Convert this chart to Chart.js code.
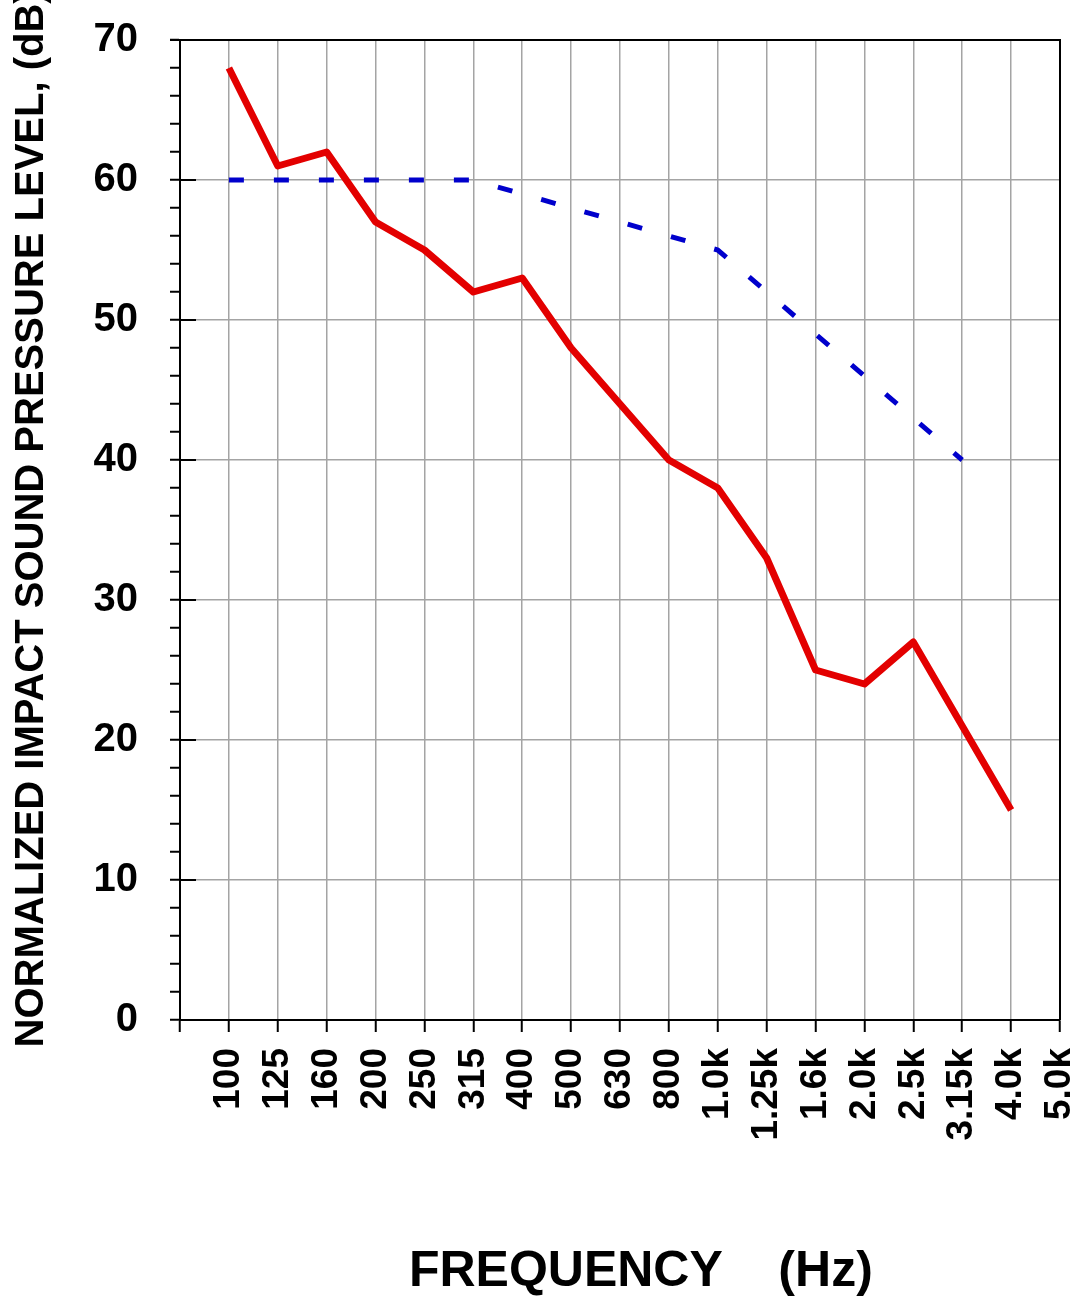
<!DOCTYPE html>
<html><head><meta charset="utf-8">
<script src="https://cdn.jsdelivr.net/npm/chart.js@4.4.1/dist/chart.umd.min.js"></script>
<style>html,body{margin:0;padding:0;background:#fff;}canvas{display:block;}</style>
</head><body>
<canvas id="c" width="1081" height="1300"></canvas>
<script>
// ---- data ----
const frequencyLabels = ['100','125','160','200','250','315','400','500','630','800','1.0k','1.25k','1.6k','2.0k','2.5k','3.15k','4.0k','5.0k'];
const measuredLevels = [68,61,62,57,55,52,53,48,44,40,38,33,25,24,27,21,15];
const referenceCurve = [60,60,60,60,60,60,59,58,57,56,55,52,49,46,43,40];
const yMin = 0, yMax = 70, yMajorStep = 10, yMinorStep = 2;
const xAxisTitle = '   FREQUENCY    (Hz)';
const yAxisTitle = '  NORMALIZED IMPACT SOUND PRESSURE LEVEL, (dB)';

const FONT = '"Liberation Sans", Arial, sans-serif';
const GRID = '#a4a4a4';
const toPoints = arr => arr.map((v, i) => ({x: i, y: v}));

const frame = {
  id: 'frame',
  beforeDatasetsDraw(chart) {
    const {ctx, chartArea: a, scales: {y}} = chart;
    ctx.save();
    ctx.strokeStyle = '#000';
    ctx.lineWidth = 2;
    ctx.beginPath();
    ctx.moveTo(a.left - 10, a.top);
    ctx.lineTo(a.right, a.top);
    ctx.lineTo(a.right, a.bottom);
    for (let v = yMin + yMajorStep; v < yMax; v += yMajorStep) {
      const py = Math.round(y.getPixelForValue(v));
      ctx.moveTo(a.left, py);
      ctx.lineTo(a.left + 16, py);
    }
    ctx.stroke();
    ctx.restore();
  }
};

new Chart(document.getElementById('c'), {
  type: 'line',
  data: {
    datasets: [
      {data: toPoints(measuredLevels), borderColor: '#e30000', borderWidth: 7, pointRadius: 0, tension: 0, fill: false, borderJoinStyle: 'round'},
      {data: toPoints(referenceCurve), borderColor: '#0000cc', borderWidth: 5, borderDash: [15, 30], borderCapStyle: 'butt', pointRadius: 0, tension: 0, fill: false}
    ]
  },
  options: {
    responsive: false,
    devicePixelRatio: 1,
    animation: false,
    layout: {padding: {top: 40, right: 21, left: 0, bottom: 0}},
    plugins: {legend: {display: false}, tooltip: {enabled: false}},
    scales: {
      x: {
        type: 'linear', min: -1, max: frequencyLabels.length - 1,
        afterFit(s) { s.height = 280; s.paddingLeft = 0; s.paddingRight = 0; },
        ticks: {
          stepSize: 1, autoSkip: false, minRotation: 90, maxRotation: 90, padding: 16,
          color: '#000', font: {family: FONT, size: 37, weight: 'bold'},
          callback: v => frequencyLabels[v] ?? ''
        },
        grid: {color: GRID, lineWidth: 1.5, tickColor: '#000', tickWidth: 2, tickLength: 12},
        border: {color: '#000', width: 2},
        title: {display: true, text: xAxisTitle, color: '#000',
          font: {family: FONT, size: 50, weight: 'bold', lineHeight: 1}, padding: {top: 0, bottom: 3}}
      },
      y: {
        min: yMin, max: yMax,
        afterFit(s) { s.width = 180; s.paddingTop = 0; s.paddingBottom = 0; },
        ticks: {
          stepSize: yMinorStep, autoSkip: false, padding: 32,
          color: '#000', font: {family: FONT, size: 40, weight: 'bold'},
          callback: v => (v % yMajorStep === 0 ? String(v) : '')
        },
        grid: {
          color: c => (c.tick && c.tick.value % yMajorStep === 0 ? GRID : 'rgba(0,0,0,0)'),
          lineWidth: 1.5, tickColor: '#000', tickWidth: 2, tickLength: 10
        },
        border: {color: '#000', width: 2},
        title: {display: true, text: yAxisTitle, color: '#000',
          font: {family: FONT, size: 40, weight: 'bold', lineHeight: 1}, padding: {top: 12, bottom: 0}}
      }
    }
  },
  plugins: [frame]
});
</script>
</body></html>
